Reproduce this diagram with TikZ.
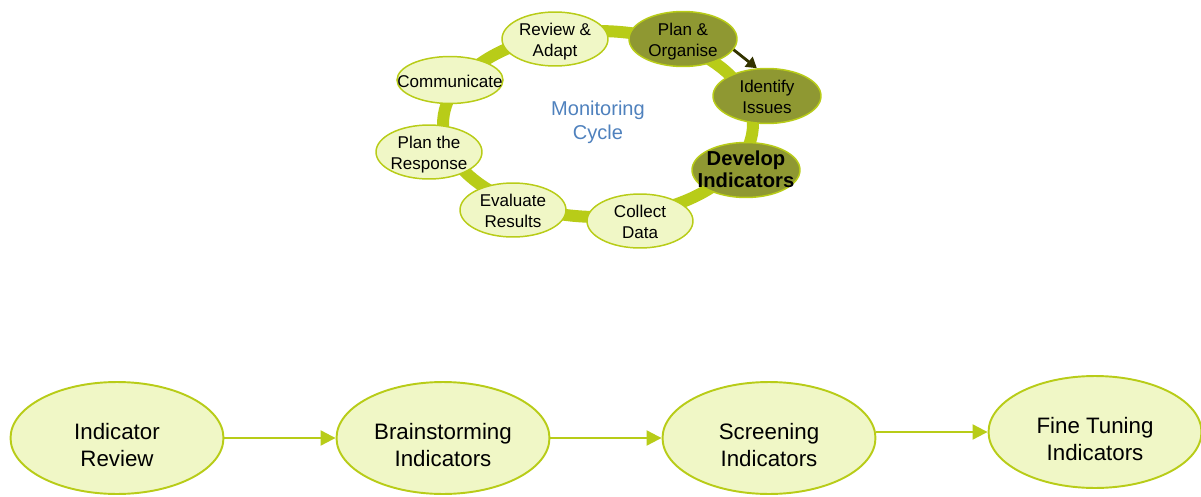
\documentclass[tikz,border=0pt]{standalone}
\usepackage{fontspec}
\setmainfont{Liberation Sans}
\usepackage{xcolor}
\usetikzlibrary{shapes.geometric, arrows.meta}

\definecolor{ringgreen}{RGB}{184,204,24}
\definecolor{palegreen}{RGB}{240,247,198}
\definecolor{olivefill}{RGB}{143,152,50}
\definecolor{darkolive}{RGB}{51,51,0}
\definecolor{cycleblue}{RGB}{79,129,189}

% text sits a little below the middle of each ellipse
\newcommand{\cyctext}[1]{\makebox[0pt]{\raisebox{-4.3pt}[0pt][0pt]{\begin{tabular}{@{}c@{}}#1\end{tabular}}}}
\newcommand{\stagetext}[1]{\makebox[0pt]{\raisebox{-8.3pt}[0pt][0pt]{\begin{tabular}{@{}c@{}}#1\end{tabular}}}}

\begin{document}
\begin{tikzpicture}[x=0.02cm, y=-0.02cm,
  cyc/.style={ellipse, draw=ringgreen, fill=palegreen, line width=0.85pt,
    minimum width=2.12cm, minimum height=1.08cm, inner sep=0pt,
    font=\fontsize{9.7}{12}\selectfont},
  cycdark/.style={cyc, fill=olivefill, minimum width=2.16cm, minimum height=1.1cm},
  stage/.style={ellipse, draw=ringgreen, fill=palegreen, line width=1.1pt,
    minimum width=4.26cm, minimum height=2.24cm, inner sep=0pt,
    font=\fontsize{12.7}{15.3}\selectfont},
  flow/.style={-{Triangle[length=8.5pt, width=8.5pt]}, ringgreen, line width=1.2pt}]

  \useasboundingbox (0,0) rectangle (1201,497);

  % Ring of the cycle
  \draw[ringgreen, line width=6.8pt] (598,124) ellipse [x radius=3.1cm, y radius=1.86cm];
  \node[text=cycleblue, align=center, font=\fontsize{11.4}{13.6}\selectfont] (title) at (598,122) {Monitoring\\Cycle};

  % Cycle steps
  \node[cyc] (rev) at (555,39) {\cyctext{Review \&\\Adapt}};
  \node[cycdark] (org) at (683,39) {\cyctext{Plan \&\\Organise}};
  \node[cycdark] (iss) at (767,96) {\cyctext{Identify\\Issues}};
  \node[cycdark, font=\bfseries\fontsize{11.5}{12.5}\selectfont] (dev) at (746,170) {\cyctext{Develop\\Indicators}};
  \node[cyc] (col) at (640,221) {\cyctext{Collect\\Data}};
  \node[cyc] (eva) at (513,210) {\cyctext{Evaluate\\Results}};
  \node[cyc] (res) at (429,152) {\cyctext{Plan the\\Response}};
  \node[cyc, minimum height=0.94cm] (com) at (450,80) {\cyctext{Communicate}};

  \draw[-{Triangle[length=6pt, width=7pt]}, darkolive, line width=1.6pt] (org.-12) -- (iss.110);

  % Indicator steps
  \node[stage] (ir) at (117,438) {\stagetext{Indicator\\Review}};
  \node[stage] (bi) at (443,438) {\stagetext{Brainstorming\\Indicators}};
  \node[stage] (scr) at (769,438) {\stagetext{Screening\\Indicators}};
  \node[stage] (ft) at (1095,432) {\stagetext{Fine Tuning\\Indicators}};

  \draw[flow] (ir) -- (bi);
  \draw[flow] (bi) -- (scr);
  \draw[flow] (scr.east |- ft.west) -- (ft.west);

\end{tikzpicture}
\end{document}
